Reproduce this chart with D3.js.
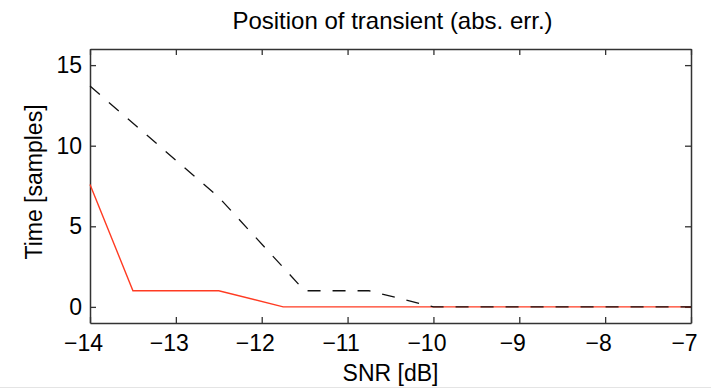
<!DOCTYPE html>
<html>
<head>
<meta charset="utf-8">
<script src="https://cdn.jsdelivr.net/npm/d3@7"></script>
<style>
  html, body { margin: 0; padding: 0; background: #fff; }
  text { font-family: "Liberation Sans", Arial, Helvetica, sans-serif; fill: #000; }
</style>
</head>
<body>
<script>
// SNR values and absolute error of the transient position
const snrRed = [-14, -13.5, -12.5, -11.75, -7];
const errRed = [7.6, 1, 1, 0, 0];
const snrDash = [-14, -12.5, -11.5, -10.75, -10, -7];
const errDash = [13.7, 6.8, 1, 1, 0, 0];
const xTicks = [-14, -13, -12, -11, -10, -9, -8, -7];
const yTicks = [0, 5, 10, 15];

document.addEventListener("DOMContentLoaded", drawChart);

function drawChart () {
  const width = 711, height = 391;
  const left = 90, right = 691, top = 49, bottom = 323;

  const svg = d3.select("body").append("svg")
    .attr("width", width)
    .attr("height", height);

  const x = d3.scaleLinear().domain([-14, -7]).range([left, right]);
  const y = d3.scaleLinear().domain([-1, 16]).range([bottom, top]);

  const fmt = d => d < 0 ? "\u2212" + Math.abs(d) : String(d);

  // bottom axis
  const gx = svg.append("g")
    .attr("transform", `translate(0,${bottom})`)
    .call(d3.axisBottom(x).tickValues(xTicks).tickSizeInner(-6).tickSizeOuter(0).tickPadding(12).tickFormat(fmt));
  gx.selectAll(".tick text").attr("dx", -7);
  // top axis (ticks only)
  const gxt = svg.append("g")
    .attr("transform", `translate(0,${top})`)
    .call(d3.axisTop(x).tickValues(xTicks).tickSizeInner(-6).tickSizeOuter(0).tickFormat(""));
  // left axis
  const gy = svg.append("g")
    .attr("transform", `translate(${left},0)`)
    .call(d3.axisLeft(y).tickValues(yTicks).tickSizeInner(-6).tickSizeOuter(0).tickPadding(8).tickFormat(fmt));
  // right axis (ticks only)
  const gyr = svg.append("g")
    .attr("transform", `translate(${right},0)`)
    .call(d3.axisRight(y).tickValues(yTicks).tickSizeInner(-6).tickSizeOuter(0).tickFormat(""));

  [gx, gxt, gy, gyr].forEach(g => {
    g.select(".domain").attr("stroke", "#333").attr("stroke-width", 1.5);
    g.selectAll(".tick line").attr("stroke", "#333").attr("stroke-width", 1.3);
    g.selectAll(".tick text").attr("font-size", 23).attr("fill", "#000")
      .style("font-family", "'Liberation Sans', Arial, sans-serif");
  });

  const line = d3.line().x(d => x(d[0])).y(d => y(d[1]));

  svg.append("path")
    .datum(d3.zip(snrRed, errRed))
    .attr("d", line)
    .attr("fill", "none")
    .attr("stroke", "#ff3b22")
    .attr("stroke-width", 1.4);

  svg.append("path")
    .datum(d3.zip(snrDash, errDash))
    .attr("d", line)
    .attr("fill", "none")
    .attr("stroke", "#111")
    .attr("stroke-width", 1.3)
    .attr("stroke-dasharray", "13,12");

  svg.append("text")
    .attr("x", (left + right) / 2 + 2)
    .attr("y", 29)
    .attr("text-anchor", "middle")
    .attr("font-size", 24)
    .text("Position of transient (abs. err.)");

  svg.append("text")
    .attr("x", (left + right) / 2)
    .attr("y", 381)
    .attr("text-anchor", "middle")
    .attr("font-size", 23)
    .text("SNR [dB]");

  svg.append("text")
    .attr("transform", `translate(42,182) rotate(-90)`)
    .attr("text-anchor", "middle")
    .attr("font-size", 23)
    .text("Time [samples]");

  // thin separator at the bottom of the screenshot
  svg.append("line")
    .attr("x1", 0).attr("x2", width)
    .attr("y1", 387.5).attr("y2", 387.5)
    .attr("stroke", "#e4e4e4");
}
</script>
</body>
</html>
